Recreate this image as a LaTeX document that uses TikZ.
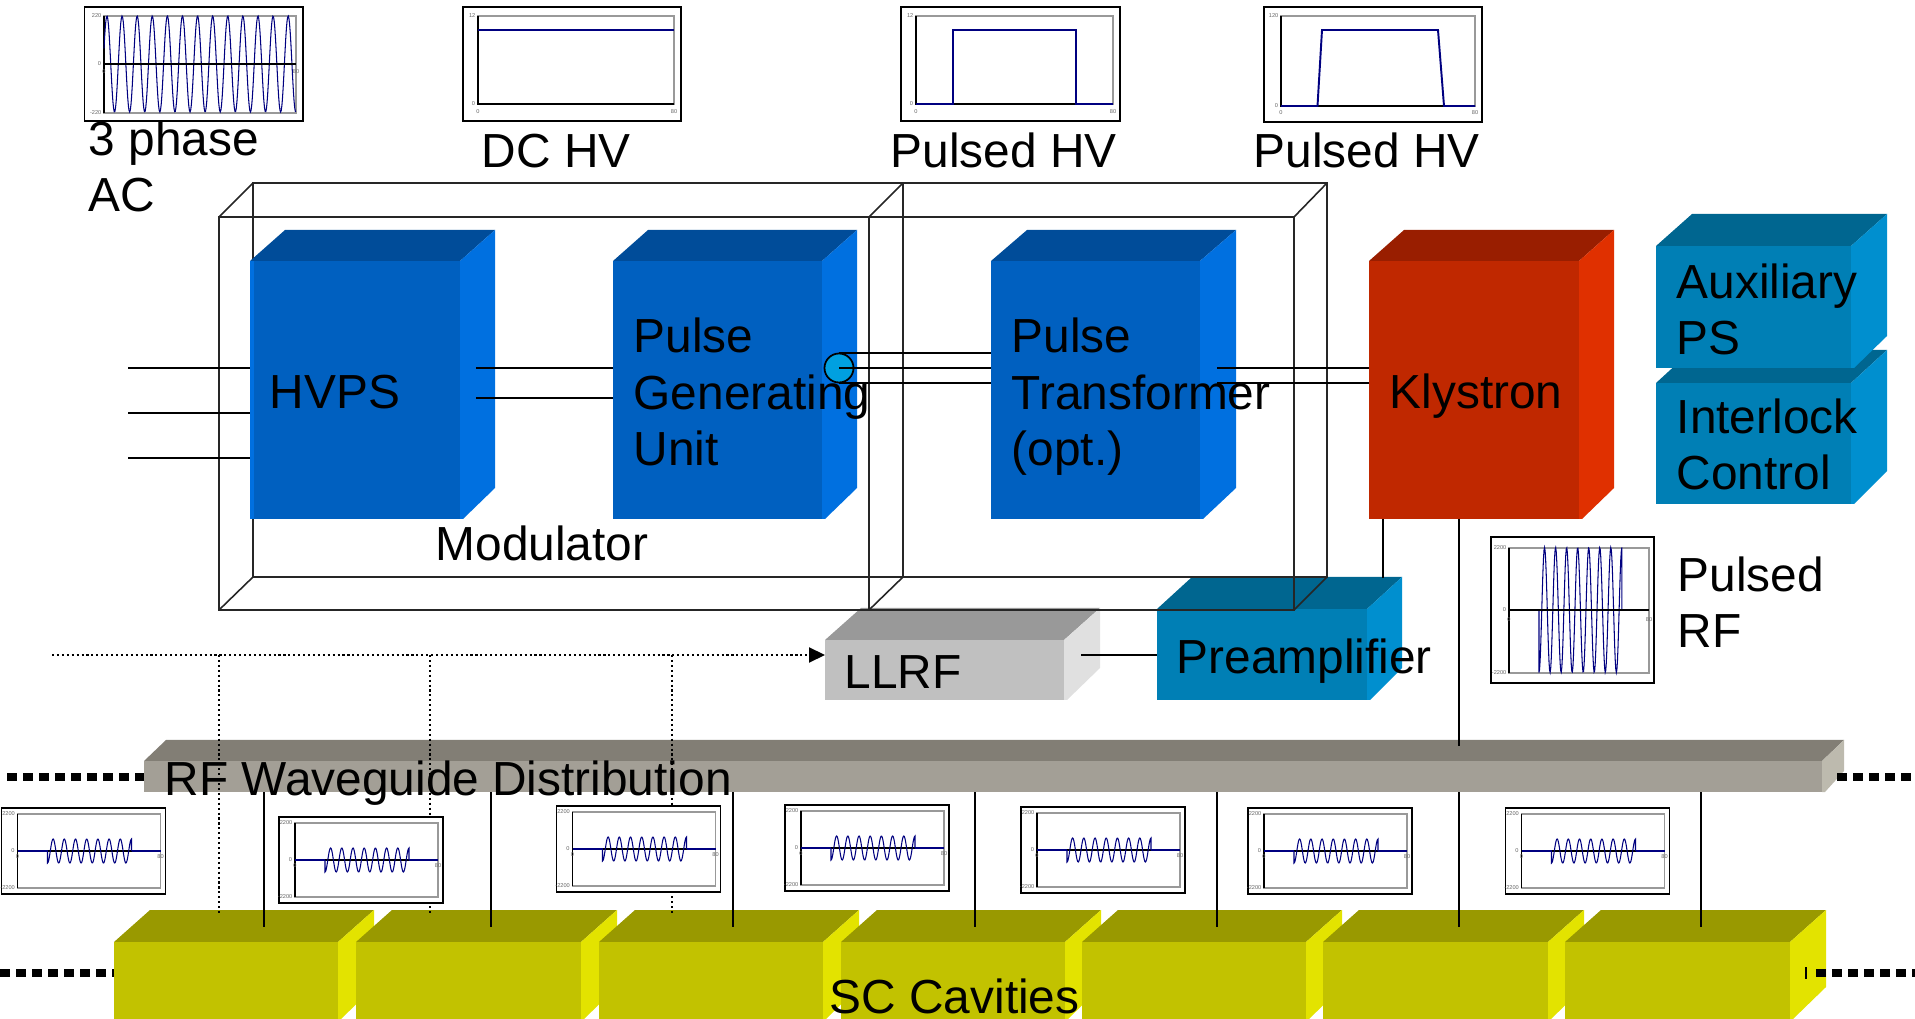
\documentclass[tikz,border=0pt]{standalone}
\usepackage{fontspec}
\setmainfont{Liberation Sans}
\usepackage{xcolor}
\usetikzlibrary{arrows.meta,positioning,calc}
\definecolor{blueF}{RGB}{0,96,192}
\definecolor{blueT}{RGB}{0,76,153}
\definecolor{blueS}{RGB}{0,112,224}
\definecolor{redF}{RGB}{192,40,0}
\definecolor{redT}{RGB}{153,30,0}
\definecolor{redS}{RGB}{224,48,0}
\definecolor{tealF}{RGB}{0,127,181}
\definecolor{tealT}{RGB}{0,102,144}
\definecolor{tealS}{RGB}{0,143,207}
\definecolor{greyF}{RGB}{192,192,192}
\definecolor{greyT}{RGB}{153,153,153}
\definecolor{greyS}{RGB}{224,224,224}
\definecolor{guideF}{RGB}{163,159,150}
\definecolor{guideT}{RGB}{130,126,117}
\definecolor{guideS}{RGB}{189,186,174}
\definecolor{cavF}{RGB}{194,194,0}
\definecolor{cavT}{RGB}{153,153,0}
\definecolor{cavS}{RGB}{227,227,0}
\definecolor{trace}{RGB}{0,0,128}
\definecolor{switchc}{RGB}{0,160,224}
\tikzset{
  wire/.style={black, line width=0.6pt},
  frameline/.style={black!85, line width=0.45pt},
  trigline/.style={black, line width=0.6pt, dash pattern=on 0.6pt off 0.8pt},
  beamline/.style={black, line width=2.4pt, dash pattern=on 0.095cm off 0.065cm},
  lbl/.style={inner sep=0pt, anchor=base west, align=left, font=\fontsize{13.6}{16.2}\selectfont},
  scopeframe/.style={draw=black, fill=white, line width=0.45pt},
  plotbox/.style={draw=black!40, line width=0.45pt},
  plotaxis/.style={black, line width=0.4pt},
  wave/.style={trace, line width=0.3pt},
  flat/.style={trace, line width=0.55pt},
  tick/.style={inner sep=0pt, text=black!60, font=\fontsize{1.6}{2}\selectfont}
}
% block: name, colour, front x1, y1, x2, y2, depth dx, depth dy
\newcommand{\cube}[8]{%
  \fill[#2T] (#3,#4) -- ++(#7,-#8) -- (#5+#7,#4-#8) -- (#5,#4) -- cycle;
  \fill[#2S] (#5,#4) -- (#5+#7,#4-#8) -- (#5+#7,#6-#8) -- (#5+3,#6) -- (#5,#6) -- cycle;
  \node[fill=#2F, inner sep=0pt, outer sep=0pt, minimum width={(#5-#3)*0.01cm},
    minimum height={(#6-#4)*0.01cm}] (#1) at ({(#3+#5)/2},{(#4+#6)/2}) {};
}
% ticks of a plot: name, left, right, top, x label row, bottom, y zero row, high, low
\newcommand{\scaleticks}[9]{%
  \node[tick, anchor=east] (#1hi) at (#2-2,#4) {#8};
  \node[tick, anchor=east] (#1zero) at (#2-2,#7) {0};
  \node[tick, anchor=east] (#1lo) at (#2-2,#6) {#9};
  \node[tick] (#1xa) at (#2,#5) {0};
  \node[tick] (#1xb) at (#3,#5) {80};
}
% rf burst on a zero line: start, zero row, amplitude, period, left, right
\newcommand{\rfburst}[6]{%
  \pgfmathsetmacro{\bstart}{#1}
  \pgfmathsetmacro{\bstop}{#1+#4*7.5}
  \pgfmathsetmacro{\bzero}{#2}
  \draw[flat] (#5,\bzero) -- (\bstart,\bzero);
  \draw[flat] (\bstop,\bzero) -- (#6,\bzero);
  \draw[wave] (\bstart,\bzero) -- plot[domain=\bstart:\bstop, samples=150] (\x,{\bzero+#3*cos(360/#4*(\x-\bstart))}) -- (\bstop,\bzero);
}
% small scope under the waveguide: name, frame x, frame y
\newcommand{\rfscope}[3]{%
  \draw[scopeframe] (#2,#3) rectangle ++(164,86);
  \draw[plotbox] (#2+16,#3+6) rectangle (#2+159,#3+80);
  \draw[plotaxis] (#2+16,#3+6) -- (#2+16,#3+80);
  \draw[plotaxis] (#2+16,#3+43) -- (#2+159,#3+43);
  \rfburst{#2+46}{#3+43}{12}{11.2}{#2+16}{#2+159}
  \scaleticks{#1}{#2+16}{#2+159}{#3+6}{#3+49}{#3+80}{#3+43}{2200}{-2200}
}

\begin{document}
\begin{tikzpicture}[x=0.01cm, y=-0.01cm]
\useasboundingbox (0,0) rectangle (1915,1019);
% ---- cavities
\cube{cavA}{cav}{114}{942}{338}{1019}{36}{32}
\cube{cavB}{cav}{356}{942}{581}{1019}{36}{32}
\cube{cavC}{cav}{599}{942}{823}{1019}{36}{32}
\cube{cavD}{cav}{841}{942}{1065}{1019}{36}{32}
\cube{cavE}{cav}{1082}{942}{1306}{1019}{36}{32}
\cube{cavF}{cav}{1323}{942}{1548}{1019}{36}{32}
\cube{cavG}{cav}{1565}{942}{1790}{1019}{36}{32}
% ---- waveguide and llrf
\cube{guide}{guide}{144}{761}{1822}{792}{22}{21}
\cube{llrf}{grey}{825}{640}{1064}{700}{36}{32}
\cube{preamp}{teal}{1157}{609}{1367}{700}{35}{32}
% ---- modulator frames
\coordinate (mfa) at (219,217); \coordinate (mfb) at (869,610);
\coordinate (mfc) at (253,183); \coordinate (mfd) at (903,577);
\coordinate (mfe) at (1294,610); \coordinate (mff) at (1327,577);
\draw[frameline] (mfa) rectangle (mfb);
\draw[frameline] (mfc) rectangle (mfd);
\draw[frameline] (mfa) -- (mfc) (mfa |- mfb) -- (mfc |- mfd);
\draw[frameline] (mfb |- mfa) -- (mfd |- mfc) (mfb) -- (mfd);
\draw[frameline] (mfb |- mfa) rectangle (mfe);
\draw[frameline] (mfd |- mfc) rectangle (mff);
\draw[frameline] (mfe |- mfa) -- (mff |- mfc) (mfe) -- (mff);
% ---- modulator blocks
\cube{hvps}{blue}{250}{261}{460}{519}{35}{31}
\fill[blueS] (250,261) rectangle (254,519);
\cube{pgu}{blue}{613}{261}{822}{519}{35}{31}
\cube{ptrans}{blue}{991}{261}{1200}{519}{36}{31}
\cube{klystron}{red}{1369}{261}{1579}{519}{35}{31}
\cube{interlock}{teal}{1656}{383}{1851}{504}{36}{33}
\cube{aux}{teal}{1656}{246}{1851}{368}{36}{32}
% ---- wires
\coordinate (acA) at (128,368); \coordinate (acB) at (128,413); \coordinate (acC) at (128,458);
\draw[wire] (acA) -- (acA -| hvps.west);
\draw[wire] (acB) -- (acB -| hvps.west);
\draw[wire] (acC) -- (acC -| hvps.west);
\coordinate (hvA) at (476,368); \coordinate (hvB) at (476,398);
\draw[wire] (hvA) -- (hvA -| pgu.west);
\draw[wire] (hvB) -- (hvB -| pgu.west);
\node[circle, draw=black, fill=switchc, line width=0.5pt, inner sep=0pt, minimum size=0.29cm] (swtch) at (839,368) {};
\draw[wire] (swtch.north) -- (swtch.north -| ptrans.west);
\draw[wire] (swtch.center) -- (swtch.center -| ptrans.west);
\draw[wire] (swtch.south) -- (swtch.south -| ptrans.west);
\coordinate (ptA) at (1217,368); \coordinate (ptB) at (1217,383);
\draw[wire] (ptA) -- (ptA -| klystron.west);
\draw[wire] (ptB) -- (ptB -| klystron.west);
\coordinate (kfb) at (1383,578); \coordinate (krf) at (1459,746);
\draw[wire] (kfb |- klystron.south) -- (kfb);
\draw[wire] (krf |- klystron.south) -- (krf);
\coordinate (llout) at (1081,655);
\draw[wire] (llout) -- (llout -| preamp.west);
% ---- trigger lines, the waveguide taps
\coordinate (trig) at (52,655);
\draw[trigline, -{Triangle[length=0.16cm, width=0.15cm]}] (trig) -- (llrf.west |- trig);
\foreach \tx in {219,430,672} {
  \coordinate (drop) at (\tx,913);
  \draw[trigline] (drop |- trig) -- (drop);
}
\foreach \tx in {264,491,733,975,1217,1459,1701} {
  \coordinate (tap) at (\tx,927);
  \draw[wire] (tap |- guide.south) -- (tap);
}
% ---- scopes along the line
\rfscope{rfA}{1.5}{808}
\rfscope{rfB}{279}{817}
\rfscope{rfC}{556.5}{806}
\rfscope{rfD}{785}{805}
\rfscope{rfE}{1021}{807}
\rfscope{rfF}{1248}{808}
\rfscope{rfG}{1505.5}{808}
% ---- beam line ends
\coordinate (bmA) at (7,777); \coordinate (bmB) at (1837,777);
\coordinate (bmC) at (0,973); \coordinate (bmD) at (1816,973);
\coordinate (bmE) at (1915,777); \coordinate (bmF) at (1915,973);
\draw[beamline] (bmA) -- (bmA -| guide.west);
\draw[beamline] (bmB) -- (bmE);
\draw[beamline] (bmC) -- (bmC -| cavA.west);
\draw[beamline] (bmD) -- (bmF);
\draw[wire] (1806,967) -- (1806,979);
% ---- labels
\node[lbl] (acl) at (88,212) {3 phase\\AC};
\node[lbl] (dcl) at (481,168) {DC HV};
\node[lbl] (phvA) at (890,168) {Pulsed HV};
\node[lbl] (phvB) at (1253,168) {Pulsed HV};
\node[lbl] (hvpsl) at (269,409) {HVPS};
\node[lbl] (pgul) at (633,466) {Pulse\\Generating\\Unit};
\node[lbl] (ptl) at (1011,466) {Pulse\\Transformer\\(opt.)};
\node[lbl] (kll) at (1389,409) {Klystron};
\node[lbl] (auxl) at (1676,355) {Auxiliary\\PS};
\node[lbl] (intl) at (1676,490) {Interlock\\Control};
\node[lbl] (modl) at (435,561) {Modulator};
\node[lbl] (prfl) at (1677,648) {Pulsed\\RF};
\node[lbl] (lll) at (844,689) {LLRF};
\node[lbl] (pal) at (1176,674) {Preamplifier};
\node[lbl] (wgl) at (164,795) {RF Waveguide Distribution};
\node[lbl] (scl) at (829,1013) {SC Cavities};
% ---- 3 phase AC
\draw[scopeframe] (84.5,7) rectangle (303,121);
\draw[plotbox] (104,16) rectangle (296,113);
\draw[plotaxis] (104,16) -- (104,113);
\draw[wave] plot[domain=104:296, samples=300] (\x,{64-48*sin(360/15.1*(\x-103.2))});
\draw[plotaxis] (104,64) -- (296,64);
\scaleticks{acp}{104}{296}{16}{72}{113}{64}{220}{-220}
% ---- DC HV
\draw[scopeframe] (463,7) rectangle (681,121);
\draw[plotbox] (478,16) rectangle (674,104);
\draw[plotaxis] (478,16) -- (478,104) -- (674,104);
\draw[flat] (478,30) -- (674,30);
\scaleticks{dcp}{478}{674}{16}{112}{104}{104}{12}{}
% ---- pulsed HV, before the transformer
\draw[scopeframe] (901,7) rectangle (1120,121);
\draw[plotbox] (916,16) rectangle (1113,104);
\draw[plotaxis] (916,16) -- (916,104) -- (1113,104);
\draw[flat] (916,104) -- (953,104) -- (953,30) -- (1076,30) -- (1076,104) -- (1113,104);
\scaleticks{phpA}{916}{1113}{16}{112}{104}{104}{12}{}
% ---- pulsed HV, after the transformer
\draw[scopeframe] (1264,7) rectangle (1482,122);
\draw[plotbox] (1281,16) rectangle (1475,106);
\draw[plotaxis] (1281,16) -- (1281,106) -- (1475,106);
\draw[flat] (1281,106) -- (1317.5,106) -- (1322,30) -- (1438,30) -- (1444,106) -- (1475,106);
\scaleticks{phpB}{1281}{1475}{16}{113}{106}{106}{120}{}
% ---- pulsed RF
\draw[scopeframe] (1491,537) rectangle (1654,683);
\draw[plotbox] (1509,548) rectangle (1649,673);
\draw[plotaxis] (1509,548) -- (1509,673);
\rfburst{1539}{610}{62.5}{11.05}{1509}{1649}
\draw[plotaxis] (1509,610) -- (1649,610);
\scaleticks{prfp}{1509}{1649}{548}{620}{673}{610}{2200}{-2200}
\end{tikzpicture}
\end{document}
